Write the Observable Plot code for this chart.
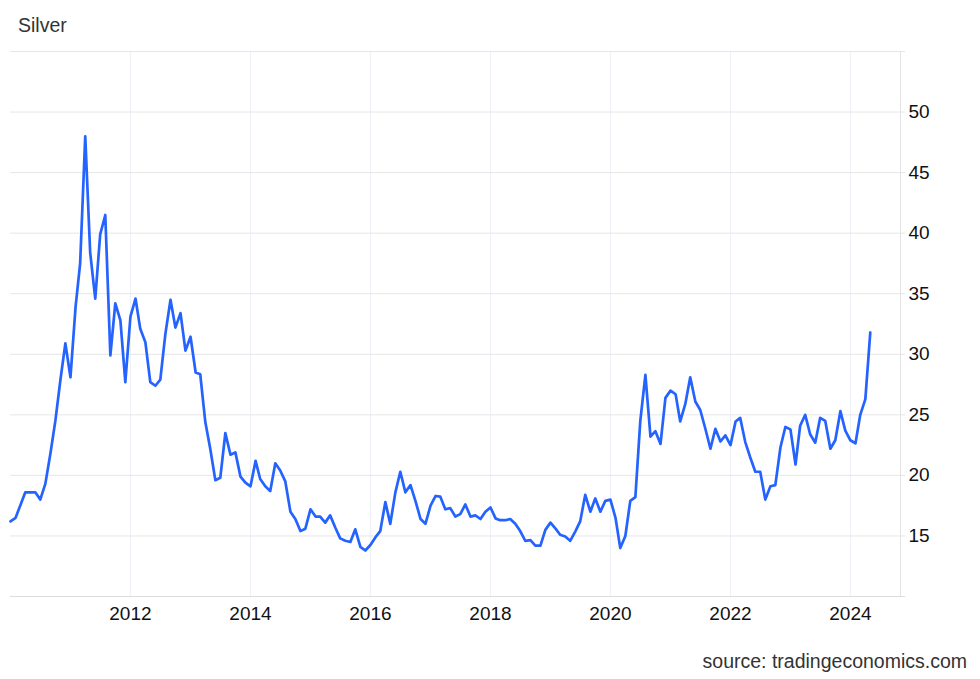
<!DOCTYPE html>
<html><head><meta charset="utf-8">
<script src="https://cdn.jsdelivr.net/npm/d3@7"></script>
<script src="https://cdn.jsdelivr.net/npm/@observablehq/plot@0.6"></script>
<style>
body{margin:0;background:#fff;font-family:"Liberation Sans",Arial,sans-serif;}
#wrap{position:relative;width:980px;height:679px;overflow:hidden;background:#fff}
#title{position:absolute;left:18px;top:14px;font-size:19.5px;color:#333;white-space:nowrap}
#chart{position:absolute;left:0;top:40px}
#source{position:absolute;right:13px;top:650px;font-size:19.5px;color:#333;white-space:nowrap}
</style></head>
<body>
<div id="wrap">
  <div id="title">Silver</div>
  <div id="chart"></div>
  <div id="source">source: tradingeconomics.com</div>
</div>
<script>
// Monthly silver price (USD/oz), January 2010 – May 2024
const firstMonth = "2010-01-01";
const p2010 = [16.2, 16.5, 17.5, 18.6, 18.6, 18.6, 18.0, 19.3, 21.8, 24.5, 27.9, 30.9];
const p2011 = [28.1, 33.9, 37.5, 48.0, 38.4, 34.6, 39.9, 41.5, 29.9, 34.2, 32.8, 27.7];
const p2012 = [33.1, 34.6, 32.1, 31.0, 27.7, 27.4, 27.9, 31.7, 34.5, 32.2, 33.4, 30.3];
const p2013 = [31.45, 28.5, 28.35, 24.4, 22.2, 19.6, 19.8, 23.5, 21.7, 21.9, 19.9, 19.4];
const p2014 = [19.1, 21.2, 19.7, 19.1, 18.7, 21.0, 20.4, 19.5, 17.0, 16.4, 15.4, 15.6];
const p2015 = [17.2, 16.6, 16.6, 16.1, 16.7, 15.7, 14.8, 14.6, 14.5, 15.55, 14.1, 13.8];
const p2016 = [14.25, 14.9, 15.4, 17.8, 16.0, 18.6, 20.3, 18.6, 19.2, 17.9, 16.4, 16.0];
const p2017 = [17.5, 18.3, 18.25, 17.2, 17.3, 16.6, 16.8, 17.6, 16.6, 16.7, 16.4, 17.0];
const p2018 = [17.35, 16.45, 16.3, 16.3, 16.4, 16.0, 15.4, 14.6, 14.65, 14.2, 14.2, 15.5];
const p2019 = [16.1, 15.6, 15.1, 14.95, 14.6, 15.35, 16.2, 18.4, 17.0, 18.1, 17.0, 17.9];
const p2020 = [18.0, 16.5, 14.0, 15.0, 17.9, 18.2, 24.5, 28.3, 23.2, 23.65, 22.6, 26.4];
const p2021 = [27.0, 26.7, 24.45, 25.9, 28.1, 26.1, 25.4, 23.85, 22.2, 23.85, 22.8, 23.3];
const p2022 = [22.5, 24.45, 24.75, 22.75, 21.5, 20.3, 20.3, 18.0, 19.1, 19.2, 22.3, 24.0];
const p2023 = [23.8, 20.9, 24.1, 25.0, 23.4, 22.7, 24.75, 24.5, 22.2, 22.9, 25.3, 23.7];
const p2024 = [22.9, 22.65, 25.0, 26.3, 31.8];

const yLabelTicks = [15, 20, 25, 30, 35, 40, 45, 50];
const yGridTicks = [15, 20, 25, 30, 35, 40, 45, 50, 55];
const xTickYears = [2012, 2014, 2016, 2018, 2020, 2022, 2024];
const xDomainStrings = ["2010-01-01", "2024-11-01"];
const yDomain = [10, 55];

const values = [].concat(p2010, p2011, p2012, p2013, p2014, p2015, p2016, p2017,
                         p2018, p2019, p2020, p2021, p2022, p2023, p2024);
const start = new Date(firstMonth);
const data = values.map((v, i) => ({
  date: new Date(Date.UTC(start.getUTCFullYear(), start.getUTCMonth() + i, 1)),
  value: v
}));
const xDomain = xDomainStrings.map(s => new Date(s));
const xTicks = xTickYears.map(y => new Date(Date.UTC(y, 0, 1)));

const chart = Plot.plot({
  width: 980,
  height: 600,
  marginTop: 11,
  marginBottom: 44,
  marginLeft: 10,
  marginRight: 80,
  style: {fontFamily: "'Liberation Sans', Arial, sans-serif", fontSize: "19px", color: "#111", background: "transparent", overflow: "visible"},
  x: {type: "utc", domain: xDomain},
  y: {domain: yDomain},
  marks: [
    Plot.ruleX(xTicks, {stroke: "#edf1f7", strokeWidth: 1}),
    Plot.ruleY(yGridTicks, {stroke: "#e6e6e6", strokeWidth: 1, insetRight: -5}),
    Plot.ruleY([yDomain[0]], {stroke: "#dcdcdc", strokeWidth: 1, insetRight: -5}),
    Plot.ruleX([xDomain[1]], {stroke: "#e3e3e3", strokeWidth: 1}),
    Plot.axisY({anchor: "right", ticks: yLabelTicks, tickSize: 0, tickPadding: 8, label: null, fill: "#111"}),
    Plot.axisX({ticks: xTicks, tickSize: 0, tickPadding: 10, tickFormat: d3.utcFormat("%Y"), label: null, fill: "#111"}),
    Plot.lineY(data, {x: "date", y: "value", stroke: "#2563ff", strokeWidth: 2.7, strokeLinejoin: "round"})
  ]
});
document.getElementById("chart").appendChild(chart);
</script>
</body></html>
